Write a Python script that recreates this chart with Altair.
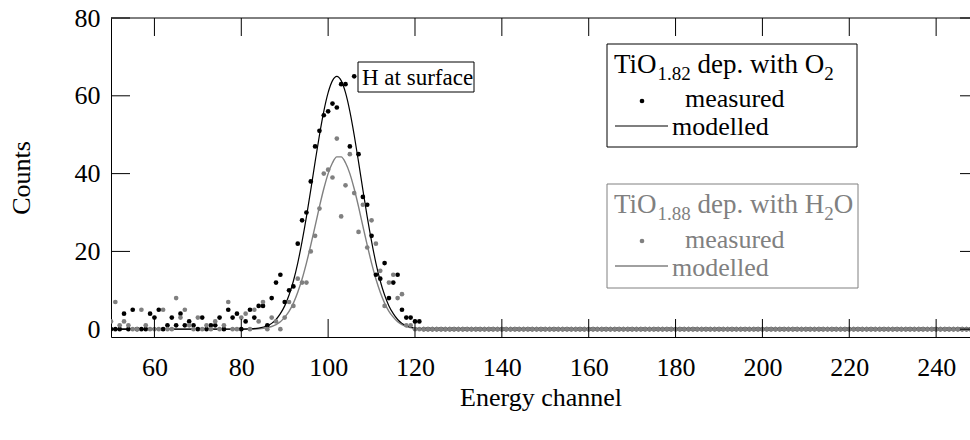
import altair as alt
import pandas as pd

FONT = "Liberation Serif"
GREY = "#808080"

# Plot-area geometry (pixels) and padding around it
LEFT, TOP = 111, 18
W, H = 859, 319

# Measured counts, channels 50-121
ch_start = 50
o2_counts = [
    0, 0, 0, 4, 0, 5, 0, 0, 0, 4,
    3, 5, 0, 1, 3, 1, 4, 1, 2, 1,
    0, 3, 0, 1, 1, 3, 0, 5, 3, 4,
    0, 2, 5, 3, 6, 6, 1, 8, 12, 14,
    7, 10, 11, 22, 28, 30, 38, 47, 51, 55,
    56, 58, 57, 63, 63, 47, 65, 45, 34, 32,
    24, 14, 13, 17, 8, 12, 14, 5, 3, 3,
    2, 2,
]
h2o_counts = [
    2, 7, 1, 2, 1, 0, 0, 5, 1, 0,
    0, 0, 5, 0, 0, 8, 3, 5, 1, 0,
    3, 0, 1, 0, 2, 0, 1, 7, 0, 0,
    3, 4, 0, 5, 2, 7, 0, 3, 2, 0,
    3, 7, 6, 13, 12, 12, 20, 24, 31, 40,
    41, 39, 49, 29, 37, 45, 35, 25, 32, 21,
    28, 22, 15, 6, 12, 14, 8, 9, 1, 1,
    0, 0,
]
# channels 122-250 register no counts in either spectrum
empty_tail = [0] * (251 - 122)

# Simulated spectra
model_ch = [50, 78, 82, 84, 86, 87, 88, 89, 90, 91, 92, 93, 94, 95, 96, 97,
            98, 99, 100, 101, 102, 103, 104, 105, 106, 107, 108, 109, 110,
            111, 112, 113, 114, 115, 116, 117, 118, 120, 122, 125, 250]
o2_model = [0, 0, 0.1, 0.3, 0.9, 1.5, 2.5, 4.0, 6.0, 8.8, 12.4, 17.0, 22.6,
            28.9, 35.8, 43.0, 49.9, 56.0, 60.8, 63.9, 65.0, 63.9, 60.8, 56.0,
            49.9, 43.0, 35.8, 28.9, 22.6, 17.0, 12.4, 8.8, 6.0, 4.0, 2.5, 1.5,
            0.9, 0.3, 0.1, 0, 0]
h2o_model = [0, 0, 0, 0.1, 0.4, 0.7, 1.2, 1.9, 3.1, 4.6, 6.7, 9.5, 12.9,
             17.0, 21.6, 26.5, 31.5, 36.1, 40.0, 42.8, 44.3, 44.3, 42.8, 40.0,
             36.1, 31.5, 26.5, 21.6, 17.0, 12.9, 9.5, 6.7, 4.6, 3.1, 1.9, 1.2,
             0.7, 0.2, 0.05, 0, 0]

x_ticks = [60, 80, 100, 120, 140, 160, 180, 200, 220, 240]
y_ticks = [0, 20, 40, 60, 80]

o2_all = o2_counts + empty_tail
h2o_all = h2o_counts + empty_tail
meas_o2 = pd.DataFrame({"channel": list(range(ch_start, ch_start + len(o2_all))), "counts": o2_all})
meas_h2o = pd.DataFrame({"channel": list(range(ch_start, ch_start + len(h2o_all))), "counts": h2o_all})
mod_o2 = pd.DataFrame({"channel": model_ch, "counts": o2_model})
mod_h2o = pd.DataFrame({"channel": model_ch, "counts": h2o_model})

x_scale = alt.Scale(domain=[50, 247.8], nice=False, zero=False)
y_scale = alt.Scale(domain=[-2, 80], nice=False, zero=False)

AX = 26  # axis text size
x_axis = alt.Axis(values=x_ticks, title="Energy channel",
                  labelFont=FONT, labelFontSize=AX, labelBaseline="alphabetic",
                  labelPadding=38,
                  titleFont=FONT, titleFontSize=AX, titleY=68,
                  titleBaseline="alphabetic")
y_axis = alt.Axis(values=y_ticks, title="Counts",
                  labelFont=FONT, labelFontSize=AX, labelPadding=11,
                  titleFont=FONT, titleFontSize=AX, titleX=-82,
                  titleBaseline="alphabetic")

X = alt.X("channel:Q", scale=x_scale, axis=x_axis)
Y = alt.Y("counts:Q", scale=y_scale, axis=y_axis)

one = pd.DataFrame({"k": [0]})

# frame: top edge and inward ticks on all four sides
top_edge = alt.Chart(one).mark_rule(color="black", strokeWidth=1).encode(
    x=alt.value(0), x2=alt.value(W), y=alt.value(0))
xt = pd.DataFrame({"channel": x_ticks})
yt = pd.DataFrame({"counts": y_ticks})
ticks_bottom = alt.Chart(xt).mark_rule(color="black").encode(
    x=X, y=alt.value(H - 18), y2=alt.value(H))
ticks_top = alt.Chart(xt).mark_rule(color="black").encode(
    x=X, y=alt.value(0), y2=alt.value(18))
ticks_left = alt.Chart(yt).mark_rule(color="black").encode(
    y=Y, x=alt.value(0), x2=alt.value(19))
ticks_right = alt.Chart(yt).mark_rule(color="black").encode(
    y=Y, x=alt.value(W - 10), x2=alt.value(W))

line_h2o = alt.Chart(mod_h2o).mark_line(
    color=GREY, strokeWidth=1.4, interpolate="monotone", clip=True
).encode(x=X, y=Y)
line_o2 = alt.Chart(mod_o2).mark_line(
    color="black", strokeWidth=1.2, interpolate="monotone", clip=True
).encode(x=X, y=Y)
pts_o2 = alt.Chart(meas_o2).mark_circle(
    color="black", size=22, opacity=1, clip=True
).encode(x=X, y=Y)
pts_h2o = alt.Chart(meas_h2o).mark_circle(
    color=GREY, size=22, opacity=1, clip=True
).encode(x=X, y=Y)


def box(x0, y0, x1, y1, stroke):
    return alt.Chart(one).mark_rect(fill="white", stroke=stroke, strokeWidth=1).encode(
        x=alt.value(x0 - LEFT), x2=alt.value(x1 - LEFT),
        y=alt.value(y0 - TOP), y2=alt.value(y1 - TOP))


def txt(s, x, y, size, color="black"):
    return alt.Chart(pd.DataFrame({"t": [s]})).mark_text(
        font=FONT, fontSize=size, color=color, align="left", baseline="alphabetic"
    ).encode(text="t:N", x=alt.value(x - LEFT), y=alt.value(y - TOP))


def dot(x, y, color):
    return alt.Chart(one).mark_circle(color=color, size=22, opacity=1).encode(
        x=alt.value(x - LEFT), y=alt.value(y - TOP))


def stroke_sample(x0, x1, y, color, width):
    return alt.Chart(one).mark_rule(color=color, strokeWidth=width).encode(
        x=alt.value(x0 - LEFT), x2=alt.value(x1 - LEFT), y=alt.value(y - TOP))


F = 26                 # legend entry text size
TF, TS = 27, 19        # legend heading: main text, subscripts
SUB = 7                # subscript drop
WIDTHS = {"T": 0.611, "i": 0.278, "O": 0.722, "H": 0.722, " ": 0.25,
          "d": 0.5, "e": 0.444, "p": 0.5, ".": 0.25, "w": 0.722,
          "t": 0.278, "h": 0.5}


def formula(parts, x, y, color):
    """Chemical formula drawn as a row of normal / subscript text pieces."""
    layers = []
    cx = x
    for s, sub in parts:
        size = TS if sub else TF
        lead = len(s) - len(s.lstrip(" "))
        cx += lead * WIDTHS[" "] * size
        body = s.lstrip(" ")
        layers.append(txt(body, cx, y + (SUB if sub else 0), size, color))
        cx += sum(WIDTHS.get(c, 0.5) for c in body) * size
    return layers


legend1 = [box(607, 44, 857, 147, "black")] + formula(
    [("TiO", False), ("1.82", True), (" dep. with O", False), ("2", True)],
    614, 73, "black") + [
    dot(642, 101, "black"), txt("measured", 685, 107, F, "black"),
    stroke_sample(615, 668, 126, "black", 1.2), txt("modelled", 672, 135, F, "black"),
]
legend2 = [box(607, 184, 858, 288, GREY)] + formula(
    [("TiO", False), ("1.88", True), (" dep. with H", False), ("2", True), ("O", False)],
    614, 213, GREY) + [
    dot(642, 241, GREY), txt("measured", 685, 248, F, GREY),
    stroke_sample(615, 668, 266, GREY, 1.4), txt("modelled", 672, 276, F, GREY),
]
peak_note = [box(358, 62, 474, 92, "black"), txt("H at surface", 362, 85, 23)]

chart = alt.layer(
    line_h2o, line_o2, pts_o2, pts_h2o,
    top_edge, ticks_bottom, ticks_top, ticks_left, ticks_right,
    *peak_note, *legend1, *legend2,
).properties(
    width=W, height=H,
    padding={"left": LEFT, "top": TOP, "right": 0, "bottom": 440 - TOP - H},
    autosize=alt.AutoSizeParams(type="none"),
    background="white",
).configure_view(
    stroke="transparent"
).configure_axis(
    labelFont=FONT, titleFont=FONT, labelFontSize=AX, titleFontSize=AX,
    labelColor="black", titleColor="black", titleFontWeight="normal",
    domainColor="black", domainWidth=1, ticks=False, tickSize=0, grid=False,
)

chart.save("out.html", embed_options={"renderer": "svg", "actions": False})
